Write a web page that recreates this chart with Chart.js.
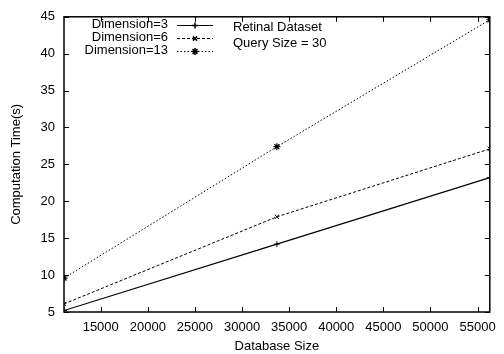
<!DOCTYPE html>
<html><head><meta charset="utf-8">
<script src="https://cdn.jsdelivr.net/npm/chart.js@4.4.0/dist/chart.umd.min.js"></script>
<style>html,body{margin:0;padding:0;background:#fff}#wrap{width:504px;height:354px}</style>
</head><body><div id="wrap"><canvas id="c" width="504" height="354"></canvas></div>
<script>
const databaseSizes = [11100, 33700, 56300];
const dim3 = [5.2, 14.2, 23.2];
const dim6 = [6.1, 17.9, 27.1];
const dim13 = [9.6, 27.4, 44.6];
const seriesNames = ['Dimension=3', 'Dimension=6', 'Dimension=13'];
const noteLines = ['Retinal Dataset', 'Query Size = 30'];
const yTicks = [5, 10, 15, 20, 25, 30, 35, 40, 45];
const xTicks = [15000, 20000, 25000, 30000, 35000, 40000, 45000, 50000, 55000];

const FONT = '"Liberation Sans", Arial, Helvetica, sans-serif';
const FS = 13;
const pts = a => a.map((v, i) => ({x: databaseSizes[i], y: v}));

const frame = {
  id: 'frame',
  afterDatasetsDraw(chart) {
    const ctx = chart.ctx, a = chart.chartArea;
    const xs = chart.scales.x, ys = chart.scales.y;
    ctx.save();
    ctx.strokeStyle = '#000';
    ctx.lineWidth = 1;
    ctx.beginPath();
    const L = 5;
    xTicks.forEach(t => {
      const px = Math.round(xs.getPixelForValue(t)) + 0.5;
      ctx.moveTo(px, a.bottom); ctx.lineTo(px, a.bottom - L);
      ctx.moveTo(px, a.top); ctx.lineTo(px, a.top + L);
    });
    yTicks.forEach(t => {
      const py = Math.round(ys.getPixelForValue(t)) + 0.5;
      ctx.moveTo(a.left, py); ctx.lineTo(a.left + L, py);
      ctx.moveTo(a.right, py); ctx.lineTo(a.right - L, py);
    });
    ctx.stroke();
    ctx.lineWidth = 1.5;
    ctx.strokeRect(a.left, a.top, a.right - a.left, a.bottom - a.top);

    // legend
    ctx.font = FS + 'px ' + FONT;
    ctx.fillStyle = '#000';
    ctx.textBaseline = 'middle';
    const rowsY = [24.5, 37.5, 50.5];
    chart.data.datasets.forEach((ds, i) => {
      const y = rowsY[i];
      ctx.textAlign = 'right';
      ctx.fillText(seriesNames[i], 168, y);
      ctx.save();
      ctx.strokeStyle = ds.borderColor;
      ctx.lineWidth = ds.borderWidth;
      ctx.setLineDash(ds.borderDash || []);
      ctx.beginPath();
      ctx.moveTo(177, Math.round(y) + 0.5); ctx.lineTo(213, Math.round(y) + 0.5);
      ctx.stroke();
      ctx.restore();
      Chart.helpers.drawPoint(ctx, {pointStyle: ds.pointStyle, radius: ds.pointRadius, borderWidth: 1, rotation: 0}, 195, Math.round(y) + 0.5);
    });
    ctx.textAlign = 'left';
    ctx.fillText(noteLines[0], 233, 27);
    ctx.fillText(noteLines[1], 233, 43);
    ctx.restore();
  }
};

new Chart(document.getElementById('c'), {
  type: 'line',
  data: {
    datasets: [
      {label: seriesNames[0], data: pts(dim3), borderColor: '#000', backgroundColor: '#000', borderWidth: 1.2, pointStyle: 'cross', pointRadius: 3, pointBorderWidth: 1},
      {label: seriesNames[1], data: pts(dim6), borderColor: '#000', backgroundColor: '#000', borderWidth: 1, borderDash: [3, 2], pointStyle: 'crossRot', pointRadius: 3, pointBorderWidth: 1},
      {label: seriesNames[2], data: pts(dim13), borderColor: '#000', backgroundColor: '#000', borderWidth: 1, borderDash: [1.5, 2], pointStyle: 'star', pointRadius: 3.5, pointBorderWidth: 1.2}
    ]
  },
  options: {
    responsive: false,
    animation: false,
    layout: {padding: {top: 13, right: 13, left: 0, bottom: 0}},
    plugins: {legend: {display: false}, tooltip: {enabled: false}},
    scales: {
      x: {
        type: 'linear',
        min: Math.min(...databaseSizes), max: Math.max(...databaseSizes),
        grid: {display: false, drawTicks: false},
        border: {display: false},
        afterBuildTicks: s => { s.ticks = xTicks.map(v => ({value: v})); },
        afterFit: s => { s.height = 42; },
        ticks: {color: '#000', font: {family: FONT, size: FS}, padding: 8, maxRotation: 0, autoSkip: false, callback: v => String(v)},
        title: {display: true, text: 'Database Size', color: '#000', font: {family: FONT, size: FS}, padding: {top: 0, bottom: 0}}
      },
      y: {
        type: 'linear', min: 5, max: 45,
        grid: {display: false, drawTicks: false},
        border: {display: false},
        afterBuildTicks: s => { s.ticks = yTicks.map(v => ({value: v})); },
        afterFit: s => { s.width = 64; },
        ticks: {color: '#000', font: {family: FONT, size: FS}, padding: 9, autoSkip: false},
        title: {display: true, text: 'Computation Time(s)', color: '#000', font: {family: FONT, size: FS}, padding: {top: 9, bottom: 0}}
      }
    }
  },
  plugins: [frame]
});
</script></body></html>
